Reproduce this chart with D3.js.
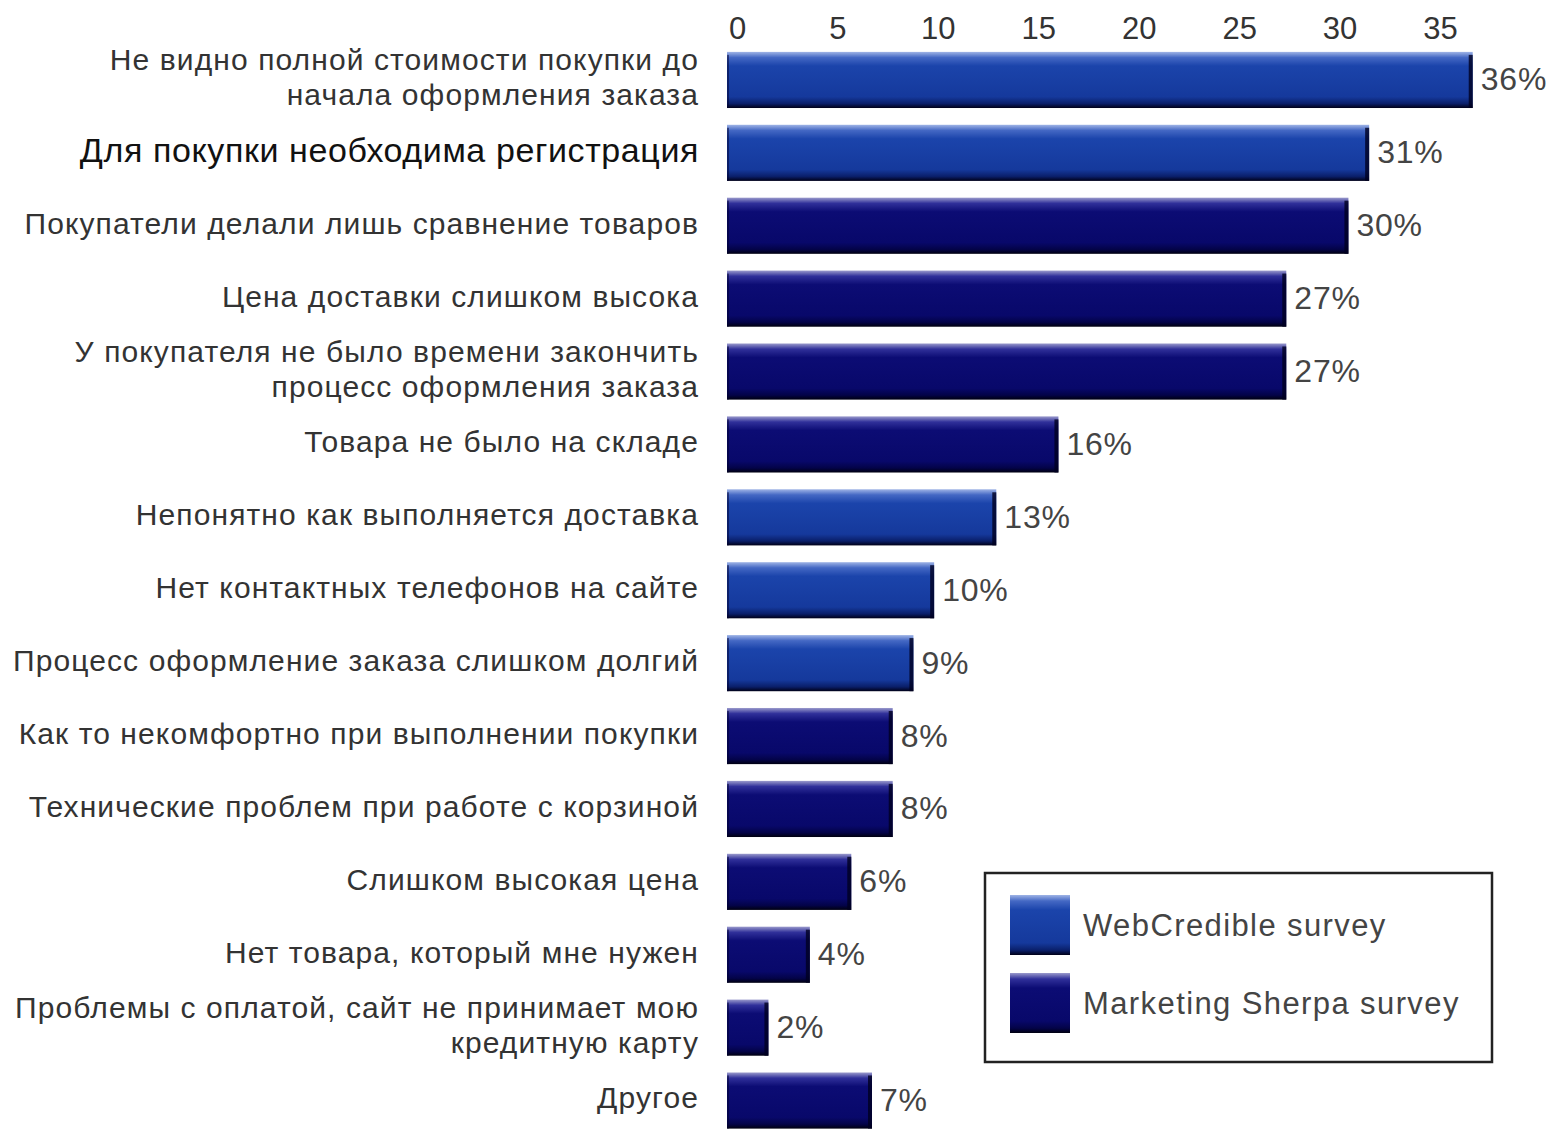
<!DOCTYPE html>
<html>
<head>
<meta charset="utf-8">
<script src="https://cdn.jsdelivr.net/npm/d3@7"></script>
<style>
  body { margin: 0; background: #fff; }
  text { font-family: "Liberation Sans", Arial, sans-serif; }
</style>
</head>
<body>
<script>

// --------------------------------------------------
// Data
// --------------------------------------------------

var categories = [
    'Не видно полной стоимости покупки до\nначала оформления заказа',
    'Для покупки необходима регистрация',
    'Покупатели делали лишь сравнение товаров',
    'Цена доставки слишком высока',
    'У покупателя не было времени закончить\nпроцесс оформления заказа',
    'Товара не было на складе',
    'Непонятно как выполняется доставка',
    'Нет контактных телефонов на сайте',
    'Процесс оформление заказа слишком долгий',
    'Как то некомфортно при выполнении покупки',
    'Технические проблем при работе с корзиной',
    'Слишком высокая цена',
    'Нет товара, который мне нужен',
    'Проблемы с оплатой, сайт не принимает мою\nкредитную карту',
    'Другое'
];
var values = [36, 31, 30, 27, 27, 16, 13, 10, 9, 8, 8, 6, 4, 2, 7];
var sources = ['web', 'web', 'sherpa', 'sherpa', 'sherpa', 'sherpa', 'web', 'web', 'web',
    'sherpa', 'sherpa', 'sherpa', 'sherpa', 'sherpa', 'sherpa'];
var tickValues = [0, 5, 10, 15, 20, 25, 30, 35];
var seriesKeys = ['web', 'sherpa'];
var seriesNames = ['WebCredible survey', 'Marketing Sherpa survey'];

// --------------------------------------------------
// Chart
// --------------------------------------------------

var svg = d3.select('body').append('svg')
    .attr('width', 1557)
    .attr('height', 1132);

var defs = svg.append('defs');

function addGradient(id, stops) {
    var grad = defs.append('linearGradient')
        .attr('id', id)
        .attr('x1', 0).attr('y1', 0)
        .attr('x2', 0).attr('y2', 1);
    stops.forEach(s => grad.append('stop').attr('offset', s[0]).attr('stop-color', s[1]));
}
addGradient('grad-web', [[0, '#9fb4e6'], [0.1, '#4468c4'], [0.25, '#1b44ab'], [0.8, '#15399c'], [0.92, '#0a1f6a'], [1, '#000018']]);
addGradient('grad-sherpa', [[0, '#9a9acc'], [0.1, '#30309a'], [0.25, '#0c0c74'], [0.8, '#08086a'], [0.92, '#030348'], [1, '#000010']]);

var color = d3.scaleOrdinal().domain(seriesKeys).range(['url(#grad-web)', 'url(#grad-sherpa)']);

var x = d3.scaleLinear().domain([0, 35]).range([727, 1452]);
var xTicks = d3.scaleLinear().domain([0, 35]).range([737, 1440]);
var y = d3.scaleBand()
    .domain(categories)
    .range([43.5, 1137])
    .paddingInner(0.23)
    .paddingOuter(0.115);

//axis on top, no line
var axis = svg.append('g')
    .attr('transform', 'translate(0,39)')
    .call(d3.axisTop(xTicks).tickValues(tickValues).tickSize(0).tickPadding(0));
axis.select('.domain').remove();
axis.selectAll('text')
    .attr('font-size', 31)
    .attr('fill', '#333')
    .style('font-family', '"Liberation Sans", Arial, sans-serif');

//bars
var rows = svg.selectAll('.row')
    .data(categories)
    .enter().append('g')
    .attr('class', 'row');

rows.append('rect')
    .attr('x', x(0))
    .attr('y', d => y(d))
    .attr('width', (d, i) => x(values[i]) - x(0))
    .attr('height', y.bandwidth())
    .attr('fill', (d, i) => color(sources[i]));

//dark side edges
rows.append('rect')
    .attr('x', (d, i) => x(values[i]) - 4)
    .attr('y', d => y(d) + 3)
    .attr('width', 4)
    .attr('height', y.bandwidth() - 3)
    .attr('fill', '#000020')
    .attr('opacity', 0.8);
rows.append('rect')
    .attr('x', x(0))
    .attr('y', d => y(d) + 3)
    .attr('width', 2)
    .attr('height', y.bandwidth() - 3)
    .attr('fill', '#000030')
    .attr('opacity', 0.5);

//value labels
rows.append('text')
    .attr('x', (d, i) => x(values[i]) + 8)
    .attr('y', d => y(d) + y.bandwidth() / 2 + 2)
    .attr('dominant-baseline', 'middle')
    .attr('font-size', 32)
    .attr('letter-spacing', 0.8)
    .attr('fill', '#444')
    .text((d, i) => values[i] + '%');

//category labels
rows.append('text')
    .attr('text-anchor', 'end')
    .attr('fill', (d, i) => i == 1 ? '#111' : '#333')
    .attr('font-size', (d, i) => i == 1 ? 34 : 30)
    .attr('letter-spacing', (d, i) => i == 1 ? 0.6 : 1.1)
    .each(function (d) {
        var lines = d.split('\n');
        var cy = y(d) + y.bandwidth() / 2;
        var lh = 35;
        d3.select(this).selectAll('tspan')
            .data(lines)
            .enter().append('tspan')
            .attr('x', 699)
            .attr('y', (l, j) => cy + (j - (lines.length - 1) / 2) * lh)
            .attr('dominant-baseline', 'middle')
            .text(l => l);
    });

//legend
var legend = svg.append('g');
legend.append('rect')
    .attr('x', 985).attr('y', 873)
    .attr('width', 507).attr('height', 189)
    .attr('fill', '#fff')
    .attr('stroke', '#222')
    .attr('stroke-width', 2.5);

var legendItems = legend.selectAll('.item')
    .data(seriesKeys)
    .enter().append('g')
    .attr('class', 'item')
    .attr('transform', (d, i) => 'translate(1010,' + (895 + i * 78) + ')');

legendItems.append('rect')
    .attr('width', 60)
    .attr('height', 60)
    .attr('fill', d => color(d));

legendItems.append('text')
    .attr('x', 73)
    .attr('y', 33)
    .attr('dominant-baseline', 'middle')
    .attr('font-size', 31)
    .attr('letter-spacing', 1.4)
    .attr('fill', '#444')
    .text((d, i) => seriesNames[i]);

</script>
</body>
</html>
